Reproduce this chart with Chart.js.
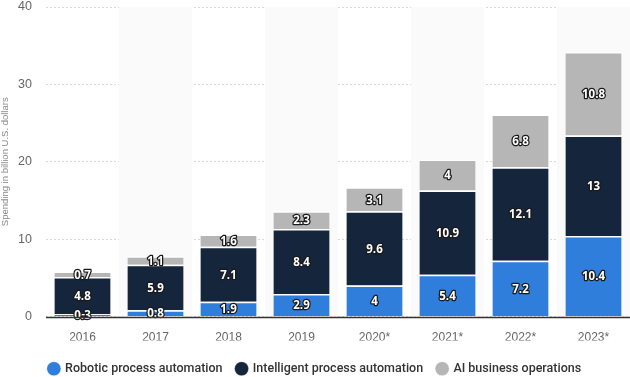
<!DOCTYPE html>
<html>
<head>
  <meta charset="utf-8" />
  <script src="https://cdn.jsdelivr.net/npm/chart.js@4.4.1/dist/chart.umd.min.js"></script>
  <style>
    body { margin:0; background:#fff; font-family:'Open Sans',sans-serif; }
    #wrap { width:630px; height:377px; position:relative; }
  </style>
</head>
<body>
<div id="wrap"><canvas id="chart"></canvas></div>
<script>
const years = ["2016", "2017", "2018", "2019", "2020*", "2021*", "2022*", "2023*"];
const robotic = [0.3, 0.8, 1.9, 2.9, 4, 5.4, 7.2, 10.4];
const intelligent = [4.8, 5.9, 7.1, 8.4, 9.6, 10.9, 12.1, 13];
const aiOps = [0.7, 1.1, 1.6, 2.3, 3.1, 4, 6.8, 10.8];

// light stripes behind every other category
const stripes = {
  id: "stripes",
  beforeDatasetsDraw(chart) {
    const { ctx, chartArea, scales } = chart;
    const step = scales.x.getPixelForValue(1) - scales.x.getPixelForValue(0);
    ctx.save();
    ctx.fillStyle = "#fafafa";
    for (let i = 1; i < years.length; i += 2) {
      const c = scales.x.getPixelForValue(i);
      ctx.fillRect(c - step / 2, chartArea.top, step, chartArea.bottom - chartArea.top);
    }
    ctx.restore();
  }
};

// value labels: white text with dark outline
const valueLabels = {
  id: "valueLabels",
  afterDatasetsDraw(chart) {
    const { ctx } = chart;
    ctx.save();
    ctx.font = "bold 11.5px 'Open Sans', sans-serif";
    ctx.textAlign = "center";
    ctx.textBaseline = "middle";
    ctx.lineJoin = "round";
    chart.data.datasets.forEach((ds, di) => {
      chart.getDatasetMeta(di).data.forEach((bar, i) => {
        const y = (bar.y + bar.base) / 2;
        const t = String(ds.data[i]);
        ctx.lineWidth = 2.5;
        ctx.strokeStyle = "#1a1a1a";
        ctx.strokeText(t, bar.x, y + 1);
        ctx.fillStyle = "#fff";
        ctx.fillText(t, bar.x, y + 1);
      });
    });
    ctx.restore();
  }
};

// solid baseline at zero
const baseline = {
  id: "baseline",
  afterDatasetsDraw(chart) {
    const { ctx, chartArea, scales } = chart;
    const y = Math.round(scales.y.getPixelForValue(0)) + 0.5;
    ctx.save();
    ctx.strokeStyle = "#333";
    ctx.lineWidth = 1.5;
    ctx.beginPath();
    ctx.moveTo(chartArea.left, y);
    ctx.lineTo(chartArea.right, y);
    ctx.stroke();
    ctx.restore();
  }
};

// push the legend down a little
const legendShift = {
  id: "legendShift",
  afterUpdate(chart) {
    const lg = chart.legend;
    lg.top += 8; lg.bottom += 8;
    lg.adjustHitBoxes();
  }
};

const barOpts = { borderColor: "#fff", borderWidth: { top: 1.5 }, borderSkipped: "bottom",
  barPercentage: 0.77, categoryPercentage: 1 };

new Chart(document.getElementById("chart"), {
  type: "bar",
  data: {
    labels: years,
    datasets: [
      Object.assign({ label: "Robotic process automation", data: robotic, backgroundColor: "#2f7edb" }, barOpts),
      Object.assign({ label: "Intelligent process automation", data: intelligent, backgroundColor: "#14253c" }, barOpts),
      Object.assign({ label: "AI business operations", data: aiOps, backgroundColor: "#b6b6b6" }, barOpts)
    ]
  },
  options: {
    responsive: true, maintainAspectRatio: false, animation: false,
    layout: { padding: { top: 7, right: 0, left: 0, bottom: 0 } },
    plugins: {
      tooltip: { enabled: false },
      legend: {
        position: "bottom",
        labels: { usePointStyle: true, pointStyle: "circle", boxWidth: 10, boxHeight: 10,
          color: "#333", font: { size: 12.5, family: "Roboto, sans-serif", weight: "500" }, padding: 14 }
      }
    },
    scales: {
      x: {
        stacked: true,
        afterFit(s) { s.height = 24; },
        grid: { display: false },
        border: { display: false },
        ticks: { color: "#666", font: { size: 12 }, padding: 6 }
      },
      y: {
        stacked: true, min: 0, max: 40,
        afterFit(s) { s.width = 46; s.paddingTop = 0; s.paddingBottom = 0; },
        ticks: { stepSize: 10, color: "#666", font: { size: 12.5 }, padding: 14 },
        grid: { color: "#d8d8d8", drawTicks: false },
        border: { display: false, dash: [2, 2] },
        title: { display: true, text: "Spending in billion U.S. dollars", color: "#888", font: { size: 9.5 }, padding: 0 }
      }
    }
  },
  plugins: [stripes, valueLabels, baseline, legendShift]
});
</script>
</body>
</html>
